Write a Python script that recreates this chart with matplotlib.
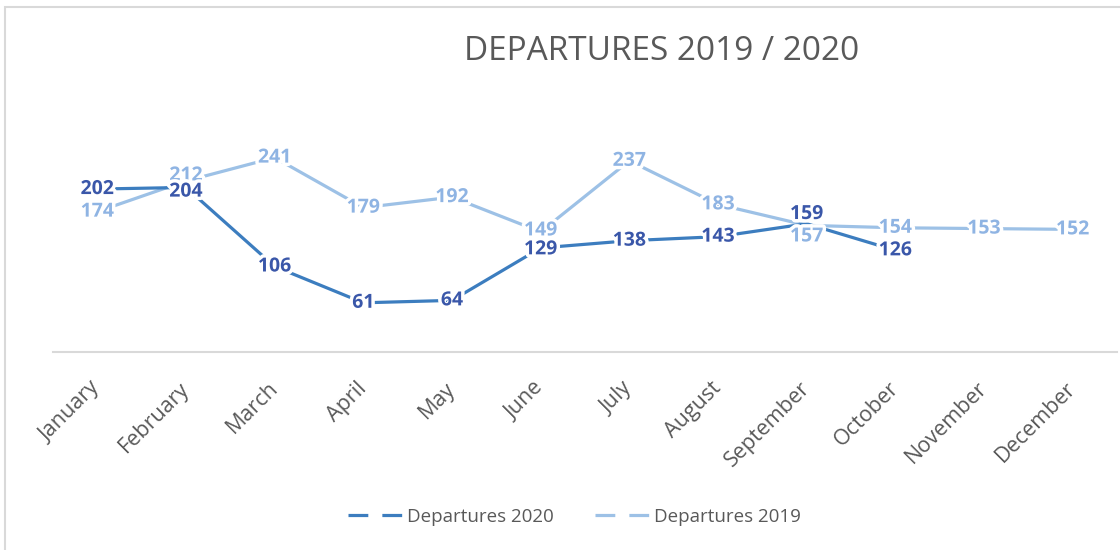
import matplotlib.pyplot as plt
import matplotlib.patheffects as pe
from matplotlib.lines import Line2D
from matplotlib.patches import Rectangle

months = ['January', 'February', 'March', 'April', 'May', 'June', 'July',
          'August', 'September', 'October', 'November', 'December']
dep_2020 = [202, 204, 106, 61, 64, 129, 138, 143, 159, 126]
dep_2019 = [174, 212, 241, 179, 192, 149, 237, 183, 157, 154, 153, 152]

c20_line = '#3C7DBF'
c20_text = '#3A57A9'
c19_line = '#9DC1E6'
c19_text = '#8FB4E3'
grey = '#595959'

plt.rcParams['font.family'] = ['Open Sans', 'DejaVu Sans']

fig = plt.figure(figsize=(11.2, 5.5), dpi=100)
ax = fig.add_axes([53 / 1120, 1 - 352 / 550, 1064 / 1120, 242 / 550])

x = list(range(len(months)))
ax.plot(x[:len(dep_2020)], dep_2020, color=c20_line, lw=2.3, zorder=3,
        solid_capstyle='butt')
ax.plot(x, dep_2019, color=c19_line, lw=2.3, zorder=2, solid_capstyle='butt')

# data labels centred on the points, white halo cuts the lines
# february / september labels were nudged apart in the original
halo = [pe.withStroke(linewidth=5, foreground='white')]
for series, col, z, nudge in [(dep_2019, c19_text, 5, {1: 4, 5: 1, 8: -8}),
                              (dep_2020, c20_text, 6, {1: -3, 5: -1, 8: 7})]:
    for i, v in enumerate(series):
        ax.annotate(str(v), (i, v), xytext=(0, nudge.get(i, 0)),
                    textcoords='offset points', ha='center', va='center',
                    fontsize=14, fontweight='bold', color=col, zorder=z,
                    path_effects=halo)

ax.set_xlim(-0.5, len(months) - 0.5)
ax.set_ylim(0, 300)
ax.set_yticks([])
ax.set_xticks(x)
ax.set_xticklabels(months, rotation=45, ha='right', va='center',
                   rotation_mode='anchor', fontsize=15.5, color=grey)
ax.tick_params(axis='x', length=0, pad=24)
for s in ['top', 'right', 'left']:
    ax.spines[s].set_visible(False)
ax.spines['bottom'].set_color('#D9D9D9')
ax.spines['bottom'].set_linewidth(1.5)

fig.text(662 / 1120, 1 - 52 / 550, 'DEPARTURES 2019 / 2020', ha='center',
         va='center', fontsize=24, color=grey)

handles = [Line2D([], [], color=c20_line, lw=2.3, ls=(0, (6.2, 4.4))),
           Line2D([], [], color=c19_line, lw=2.3, ls=(0, (6.2, 4.4)))]
fig.legend(handles, ['Departures 2020', 'Departures 2019'], loc='center',
           bbox_to_anchor=(574 / 1120, 1 - 517 / 550), ncol=2, frameon=False,
           fontsize=13.5, labelcolor=grey, handlelength=3.0,
           columnspacing=2.2, handletextpad=0.15)

# chart area border
fig.patches.append(Rectangle((5 / 1120, -0.1), 1.2, 1.1 - 7 / 550,
                             transform=fig.transFigure, fill=False,
                             ec='#D9D9D9', lw=1.5))

fig.savefig('out.png', dpi=100)
